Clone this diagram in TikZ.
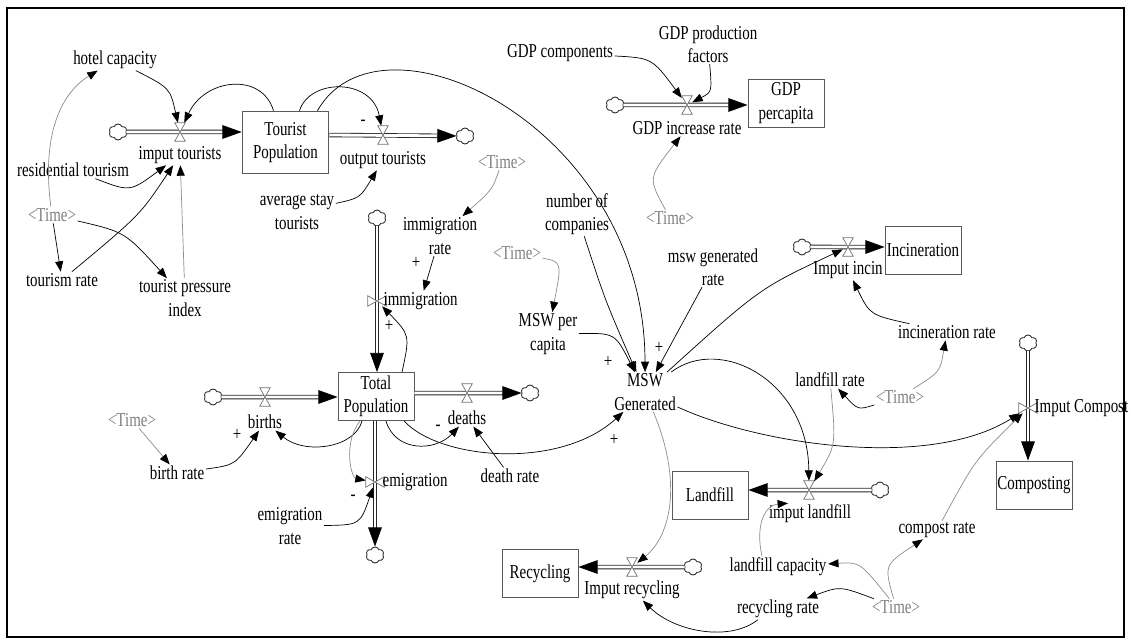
\documentclass[tikz,border=0pt]{standalone}
\usepackage{fontspec}
\setmainfont{Liberation Serif}[FakeStretch=0.76]
\usetikzlibrary{arrows.meta,shapes.symbols}

\tikzset{
  stock/.style={draw=black!65, line width=0.6pt, minimum width=1.9cm, minimum height=1.2cm, align=center, inner sep=1pt},
  var/.style={align=center, inner sep=1pt},
  shadow/.style={var, text=black!50},
  sign/.style={inner sep=0pt},
  info/.style={line width=0.5pt, -{Triangle[length=0.26cm, width=0.2cm, black]}},
  ginfo/.style={info, draw=black!45},
  pipe/.style={draw=black!85, line width=0.6pt, double, double distance=2pt, -{Triangle[length=0.48cm, width=0.34cm, black]}},
  valveh/.style={minimum width=0.25cm, minimum height=0.45cm, inner sep=0pt},
  valvev/.style={minimum width=0.45cm, minimum height=0.25cm, inner sep=0pt},
  valveline/.style={draw=black!55, line width=0.5pt, fill=white},
  cloudy/.style={cloud, draw=black!85, line width=0.6pt, fill=white, cloud puffs=6, cloud puff arc=140, aspect=1.15, inner sep=0pt, minimum width=0.45cm, minimum height=0.4cm}
}

\begin{document}
\begin{tikzpicture}[x=0.025cm, y=-0.025cm, font=\fontsize{14}{16.5}\selectfont]
  \useasboundingbox (0,0) rectangle (1131,643);
  \draw[line width=0.8pt] (7,8) rectangle (1124,637);

  % stocks
  \node[stock, minimum width=2.17cm, minimum height=1.57cm] (TP) at (285.5,142.5) {Tourist\\Population};
  \node[stock] (TotP) at (376,396.5) {Total\\Population};
  \node[stock] (GDPpc) at (786,103) {GDP\\percapita};
  \node[stock] (Inc) at (923,250) {Incineration};
  \node[stock] (LF) at (710,495) {Landfill};
  \node[stock] (Rec) at (540,573.5) {Recycling};
  \node[stock] (Comp) at (1034,485) {Composting};

  % clouds
  \node[cloudy] (cIT) at (118,132) {};
  \node[cloudy] (cOT) at (465,136) {};
  \node[cloudy] (cImm) at (377,218) {};
  \node[cloudy] (cBirth) at (213,397) {};
  \node[cloudy] (cDeath) at (530,393) {};
  \node[cloudy] (cEmi) at (375,555) {};
  \node[cloudy] (cGDP) at (615,105) {};
  \node[cloudy] (cInc) at (802,247) {};
  \node[cloudy] (cComp) at (1028,343) {};
  \node[cloudy] (cLF) at (880,490) {};
  \node[cloudy] (cRec) at (693,567) {};

  % valves
  \node[valveh] (vIT) at (180,132) {};
  \node[valveh] (vOT) at (383,135) {};
  \node[valveh] (vGDP) at (687,105) {};
  \node[valveh] (vInc) at (848,247) {};
  \node[valveh] (vBirth) at (265,397) {};
  \node[valveh] (vDeath) at (467,393) {};
  \node[valveh] (vLF) at (809,490) {};
  \node[valveh] (vRec) at (632,567) {};
  \node[valvev] (vImm) at (377,301) {};
  \node[valvev] (vEmi) at (375,482) {};
  \node[valvev] (vComp) at (1028,408) {};

  % pipes
  \draw[pipe] (cIT) -- (TP.west |- cIT);
  \draw[pipe] (TP.east |- vOT) -- (cOT);
  \draw[pipe] (cImm) -- (cImm |- TotP.north);
  \draw[pipe] (cBirth) -- (TotP.west |- cBirth);
  \draw[pipe] (TotP.east |- vDeath) -- (cDeath);
  \draw[pipe] (vEmi |- TotP.south) -- (cEmi);
  \draw[pipe] (cGDP) -- (GDPpc.west |- cGDP);
  \draw[pipe] (cInc) -- (Inc.west |- cInc);
  \draw[pipe] (cComp) -- (cComp |- Comp.north);
  \draw[pipe] (cLF) -- (LF.east |- cLF);
  \draw[pipe] (cRec) -- (Rec.east |- cRec);

  \foreach \v in {vIT,vOT,vGDP,vInc,vBirth,vDeath,vLF,vRec}
    \draw[valveline] (\v.north west) -- (\v.north east) -- (\v.south west) -- (\v.south east) -- cycle;
  \foreach \v in {vImm,vEmi,vComp}
    \draw[valveline] (\v.north west) -- (\v.south west) -- (\v.north east) -- (\v.south east) -- cycle;

  % flow labels
  \node[var] (lIT) at (180,155) {imput tourists};
  \node[var] (lOT) at (383,160) {output tourists};
  \node[var, anchor=west] (lImm) at (382,301) {immigration};
  \node[var, anchor=west] (lEmi) at (381,482) {emigration};
  \node[var] (lBirth) at (265,422) {births};
  \node[var] (lDeath) at (467,418) {deaths};
  \node[var] (lGDP) at (687,128) {GDP increase rate};
  \node[var] (lInc) at (848,270) {Imput incin};
  \node[var, anchor=west] (lComp) at (1033,408) {Imput Compost};
  \node[var] (lLF) at (810,514) {imput landfill};
  \node[var] (lRec) at (632,590) {Imput recycling};

  % auxiliaries
  \node[var] (hotel) at (115,60) {hotel capacity};
  \node[var] (resid) at (73,170) {residential tourism};
  \node[var] (trate) at (62,280) {tourism rate};
  \node[var] (tpi) at (185,298) {tourist pressure\\index};
  \node[var] (avgstay) at (297,212) {average stay\\tourists};
  \node[var] (immrate) at (440,236) {immigration\\rate};
  \node[var] (brate) at (177,473) {birth rate};
  \node[var] (emirate) at (290,526) {emigration\\rate};
  \node[var] (drate) at (510,476) {death rate};
  \node[var] (MSW) at (645,392) {MSW\\Generated};
  \node[var] (ncomp) at (577,214) {number of\\companies};
  \node[var] (mswpc) at (548,334) {MSW per\\capita};
  \node[var] (mswgr) at (713,267) {msw generated\\rate};
  \node[var] (gdpc) at (560,53) {GDP components};
  \node[var] (gdppf) at (708,44) {GDP production\\factors};
  \node[var] (incrate) at (947,332) {incineration rate};
  \node[var] (lfrate) at (830,380) {landfill rate};
  \node[var] (crate) at (937,530) {compost rate};
  \node[var] (lfcap) at (778,567) {landfill capacity};
  \node[var] (rrate) at (778,609) {recycling rate};

  % time shadows
  \node[shadow] (time1) at (52,215) {<Time>};
  \node[shadow] (time2) at (502,162) {<Time>};
  \node[shadow] (time3) at (132,420) {<Time>};
  \node[shadow] (time4) at (517,253) {<Time>};
  \node[shadow] (time5) at (670,218) {<Time>};
  \node[shadow] (time6) at (900,397) {<Time>};
  \node[shadow] (time7) at (896,607) {<Time>};

  % tourism links
  \draw[info] (hotel) .. controls (170,88) .. (vIT);
  \draw[ginfo] (time1) .. controls (42,140) and (58,95) .. (hotel);
  \draw[info] (resid) .. controls (130,192) .. (lIT);
  \draw[info] (trate) .. controls (140,215) .. (lIT);
  \draw[ginfo] (tpi) -- (lIT);
  \draw[info] (time1) -- (trate);
  \draw[info] (time1) .. controls (125,232) .. (tpi);
  \draw[info] ([xshift=-0.3cm]TP.north) .. controls (262,72) and (205,78) .. (vIT);
  \draw[info] ([xshift=0.35cm]TP.north) .. controls (310,78) and (372,78) .. (vOT);
  \draw[info] ([xshift=0.8cm]TP.north) .. controls (380,0) and (645,125) .. (MSW);
  \draw[info] (avgstay) .. controls (360,198) .. (lOT);

  % population links
  \draw[ginfo] (time2) .. controls (492,190) .. (immrate);
  \draw[info] (immrate) -- (lImm);
  \draw[info] ([xshift=0.65cm]TotP.north) .. controls (410,335) .. (vImm);
  \draw[info] ([xshift=-0.35cm]TotP.south) .. controls (355,448) and (305,455) .. (lBirth);
  \draw[ginfo] (time3) -- (brate);
  \draw[info] (brate) .. controls (235,465) .. (lBirth);
  \draw[ginfo] ([xshift=-0.4cm]TotP.south) .. controls (342,445) and (352,478) .. (vEmi);
  \draw[info] (emirate) .. controls (360,525) .. (vEmi);
  \draw[info] ([xshift=0.25cm]TotP.south) .. controls (395,452) and (435,452) .. (lDeath);
  \draw[info] (drate) -- (lDeath);
  \draw[info] ([xshift=0.7cm]TotP.south) .. controls (440,460) and (560,470) .. (MSW);

  % msw links
  \draw[info] (ncomp) .. controls (605,300) .. (MSW);
  \draw[ginfo] (time4) .. controls (562,262) .. (mswpc);
  \draw[info] (mswpc) .. controls (615,333) .. (MSW);
  \draw[info] (mswgr) -- (MSW);
  \draw[info] (MSW) .. controls (760,288) .. (vInc);
  \draw[info] (MSW) .. controls (720,335) and (808,380) .. (vLF);
  \draw[ginfo] (MSW) .. controls (682,480) and (672,535) .. (vRec);
  \draw[info] (MSW) .. controls (760,445) and (930,470) .. (vComp);
  \draw[info] (incrate) .. controls (870,315) .. (lInc);
  \draw[ginfo] (time6) .. controls (940,372) .. (incrate);
  \draw[info] (time6) .. controls (858,410) .. (lfrate);
  \draw[ginfo] (lfrate) .. controls (836,445) .. (vLF);
  \draw[ginfo] (crate) .. controls (975,460) .. (vComp);
  \draw[ginfo] (time7) .. controls (884,565) .. (crate);
  \draw[ginfo] (time7) .. controls (860,562) .. (lfcap);
  \draw[info] (time7) .. controls (840,586) .. (rrate);
  \draw[ginfo] ([xshift=-0.4cm]lfcap.north) .. controls (755,525) and (765,505) .. ([xshift=-0.55cm]lLF.north);
  \draw[info] ([xshift=-0.5cm]rrate.south) .. controls (730,642) and (675,632) .. (lRec);

  % gdp links
  \draw[info] (gdpc) .. controls (652,58) .. (vGDP);
  \draw[info] (gdppf) .. controls (712,92) .. (vGDP);
  \draw[ginfo] (time5) .. controls (648,178) .. (lGDP);

  % polarity signs
  \node[sign] (s1) at (363,123) {-};
  \node[sign] (s2) at (416,263) {+};
  \node[sign] (s3) at (389,326) {+};
  \node[sign] (s4) at (237,435) {+};
  \node[sign] (s5) at (353,498) {-};
  \node[sign] (s6) at (438,428) {-};
  \node[sign] (s7) at (614,440) {+};
  \node[sign] (s8) at (608,362) {+};
  \node[sign] (s9) at (659,348) {+};
\end{tikzpicture}
\end{document}
